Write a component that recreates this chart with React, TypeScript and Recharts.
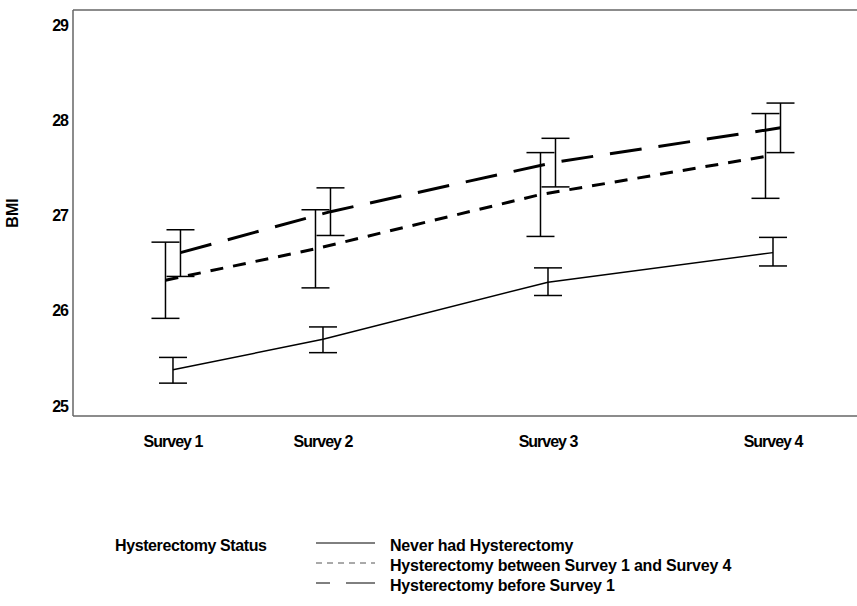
import React from 'react';
import { LineChart, Line, XAxis, YAxis, ErrorBar, ReferenceLine } from 'recharts';

// survey years (x positions) and their labels
const surveyYears = [1996, 1998, 2001, 2004];
const surveyLabels = ['Survey 1', 'Survey 2', 'Survey 3', 'Survey 4'];
const yTicks = [25, 26, 27, 28, 29];

// mean BMI with lower / upper CI bounds
const neverMean = [25.38, 25.7, 26.3, 26.61];
const neverLow = [25.24, 25.56, 26.16, 26.47];
const neverHigh = [25.51, 25.83, 26.45, 26.77];

const betweenMean = [26.32, 26.65, 27.22, 27.62];
const betweenLow = [25.92, 26.24, 26.78, 27.18];
const betweenHigh = [26.72, 27.06, 27.66, 28.07];

const beforeMean = [26.61, 27.04, 27.56, 27.92];
const beforeLow = [26.36, 26.79, 27.3, 27.66];
const beforeHigh = [26.85, 27.29, 27.81, 28.18];

const seriesNames = ['Never had Hysterectomy', 'Hysterectomy between Survey 1 and Survey 4', 'Hysterectomy before Survey 1'];

const X_DOMAIN = [1994.667, 2005.12];
const Y_DOMAIN = [24.895, 29.157];
const FONT = '"Liberation Sans", Arial, sans-serif';

function buildPoints(mean: number[], low: number[], high: number[], shift: number) {
  return surveyYears.map((yr, i) => ({
    x: yr + shift,
    y: mean[i],
    err: [+(mean[i] - low[i]).toFixed(3), +(high[i] - mean[i]).toFixed(3)],
  }));
}

const neverData = buildPoints(neverMean, neverLow, neverHigh, 0);
const betweenData = buildPoints(betweenMean, betweenLow, betweenHigh, -0.1);
const beforeData = buildPoints(beforeMean, beforeLow, beforeHigh, 0.1);

const labelFor = (v: number) => surveyLabels[surveyYears.indexOf(v)] ?? '';

function LegendBlock() {
  const rows = [
    { name: seriesNames[0], dash: undefined, color: '#000' },
    { name: seriesNames[1], dash: '6 5', color: '#555' },
    { name: seriesNames[2], dash: '14 16 30', color: '#000' },
  ];
  const txt = { fontSize: 16, fontWeight: 700, fontFamily: FONT, fill: '#000', letterSpacing: -0.2 };
  return (
    <svg width={857} height={80} style={{ position: 'absolute', left: 0, top: 530 }}>
      <text x={115} y={21} style={{ ...txt, letterSpacing: -0.4 }}>Hysterectomy Status</text>
      {rows.map((r, i) => (
        <g key={r.name}>
          <line x1={316} x2={375} y1={13 + i * 20} y2={13 + i * 20} stroke={r.color} strokeWidth={1} strokeDasharray={r.dash} />
          <text x={390} y={21 + i * 20} style={txt}>{r.name}</text>
        </g>
      ))}
    </svg>
  );
}

export default function App() {
  const tickStyle = { fill: '#000', fontSize: 16, fontWeight: 700, fontFamily: FONT, letterSpacing: -1 };
  return (
    <div style={{ position: 'absolute', left: 0, top: 0, width: 857, height: 606, background: '#fff' }}>
      <LineChart width={857} height={606} margin={{ top: 10, right: 0, left: 0, bottom: 150 }}>
        <XAxis
          dataKey="x"
          type="number"
          domain={X_DOMAIN}
          ticks={surveyYears}
          tickFormatter={labelFor}
          allowDataOverflow
          tickLine={false}
          tickSize={0}
          tickMargin={20}
          height={40}
          axisLine={{ stroke: '#666', strokeWidth: 1.5 }}
          tick={tickStyle}
        />
        <YAxis
          type="number"
          domain={Y_DOMAIN}
          ticks={yTicks}
          allowDataOverflow
          tickLine={false}
          tickSize={0}
          tickMargin={5}
          width={73}
          axisLine={{ stroke: '#666', strokeWidth: 1.5 }}
          tick={tickStyle}
          label={{ value: 'BMI', angle: -90, position: 'insideLeft', offset: 12, style: { textAnchor: 'middle', fontSize: 16, fontWeight: 700, fontFamily: FONT, fill: '#000' } }}
        />
        <ReferenceLine y={Y_DOMAIN[1]} stroke="#666" strokeWidth={1.5} />
        <Line data={neverData} dataKey="y" stroke="#000" strokeWidth={1.5} dot={false} isAnimationActive={false}>
          <ErrorBar dataKey="err" direction="y" width={14} stroke="#000" strokeWidth={1.5} />
        </Line>
        <Line data={betweenData} dataKey="y" stroke="#000" strokeWidth={3} strokeDasharray="13 10" dot={false} isAnimationActive={false}>
          <ErrorBar dataKey="err" direction="y" width={14} stroke="#000" strokeWidth={1.5} />
        </Line>
        <Line data={beforeData} dataKey="y" stroke="#000" strokeWidth={3} strokeDasharray="32 17" dot={false} isAnimationActive={false}>
          <ErrorBar dataKey="err" direction="y" width={14} stroke="#000" strokeWidth={1.5} />
        </Line>
      </LineChart>
      <LegendBlock />
    </div>
  );
}
